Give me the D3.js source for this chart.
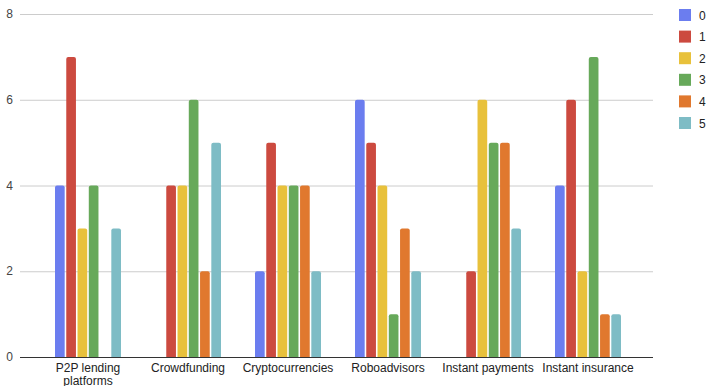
<!DOCTYPE html>
<html>
<head>
<meta charset="utf-8">
<script src="https://cdn.jsdelivr.net/npm/d3@7"></script>
<style>
  body { margin: 0; background: #fff; }
  text { font-family: "Liberation Sans", Arial, sans-serif; }
</style>
</head>
<body>
<div class="canva"></div>
<script>
// chart data
const categories = ["P2P lending platforms", "Crowdfunding", "Cryptocurrencies", "Roboadvisors", "Instant payments", "Instant insurance"];
const seriesNames = ["0", "1", "2", "3", "4", "5"];
const series0 = [4, 0, 2, 6, 0, 4];
const series1 = [7, 4, 5, 5, 2, 6];
const series2 = [3, 4, 4, 4, 6, 2];
const series3 = [4, 6, 4, 1, 5, 7];
const series4 = [0, 2, 4, 3, 5, 1];
const series5 = [3, 5, 2, 2, 3, 1];
const yTicks = [0, 2, 4, 6, 8];
const colors = ["#6b7def", "#cc4a3f", "#e8c13b", "#67a95a", "#e0782e", "#7ebcc5"];

const allSeries = [series0, series1, series2, series3, series4, series5];

const width = 709, height = 386;
const svg = d3.select(".canva").append("svg")
    .attr("width", width)
    .attr("height", height);

const plotLeft = 20, plotRight = 653, plotTop = 14, plotBottom = 357;

const x = d3.scaleBand()
    .domain(categories)
    .range([38, 638]);

const xInner = d3.scaleBand()
    .domain(seriesNames)
    .range([-33, 33])
    .paddingInner(0.14);

const y = d3.scaleLinear()
    .domain([0, 8])
    .range([plotBottom, plotTop]);

// gridlines
svg.append("g")
  .selectAll("line")
  .data(yTicks.filter(d => d > 0))
  .enter().append("line")
    .attr("x1", plotLeft)
    .attr("x2", plotRight)
    .attr("y1", d => y(d) + 0.5)
    .attr("y2", d => y(d) + 0.5)
    .attr("stroke", "#cccccc")
    .attr("stroke-width", 1);

// y labels
svg.append("g")
  .selectAll("text")
  .data(yTicks)
  .enter().append("text")
    .attr("x", 13)
    .attr("y", d => y(d) + 4)
    .attr("text-anchor", "end")
    .attr("font-size", "12px")
    .attr("fill", "#444")
    .text(d => d);

// bars
const barData = [];
categories.forEach((c, i) => {
    seriesNames.forEach((s, j) => {
        barData.push({cat: c, ser: s, value: allSeries[j][i], color: colors[j]});
    });
});

function barPath(d) {
    const bx = x(d.cat) + x.bandwidth() / 2 + xInner(d.ser);
    const bw = xInner.bandwidth();
    const top = y(d.value), base = y(0);
    const r = Math.min(2, (base - top) / 2);
    return `M${bx},${base}V${top + r}Q${bx},${top} ${bx + r},${top}H${bx + bw - r}Q${bx + bw},${top} ${bx + bw},${top + r}V${base}Z`;
}

svg.append("g")
  .selectAll("path")
  .data(barData.filter(d => d.value > 0))
  .enter().append("path")
    .attr("d", barPath)
    .attr("fill", d => d.color);

// baseline
svg.append("line")
    .attr("x1", plotLeft)
    .attr("x2", plotRight)
    .attr("y1", y(0) + 0.5)
    .attr("y2", y(0) + 0.5)
    .attr("stroke", "#333")
    .attr("stroke-width", 1);

// x labels (wrap long ones)
const xLabels = svg.append("g")
  .selectAll("text")
  .data(categories)
  .enter().append("text")
    .attr("x", d => x(d) + x.bandwidth() / 2)
    .attr("y", 372)
    .attr("text-anchor", "middle")
    .attr("font-size", "12px")
    .attr("fill", "#222");

xLabels.each(function(d) {
    const t = d3.select(this);
    const lines = d === "P2P lending platforms" ? ["P2P lending", "platforms"] : [d];
    lines.forEach((ln, k) => {
        t.append("tspan")
          .attr("x", x(d) + x.bandwidth() / 2)
          .attr("dy", k === 0 ? 0 : 12.5)
          .text(ln);
    });
});

// legend
const legend = svg.append("g")
  .selectAll("g")
  .data(seriesNames)
  .enter().append("g")
    .attr("transform", (d, i) => `translate(679, ${9 + i * 21.6})`);

legend.append("rect")
    .attr("width", 12)
    .attr("height", 12)
    .attr("fill", (d, i) => colors[i]);

legend.append("text")
    .attr("x", 20)
    .attr("y", 10.5)
    .attr("font-size", "12px")
    .attr("fill", "#222")
    .text(d => d);
</script>
</body>
</html>
